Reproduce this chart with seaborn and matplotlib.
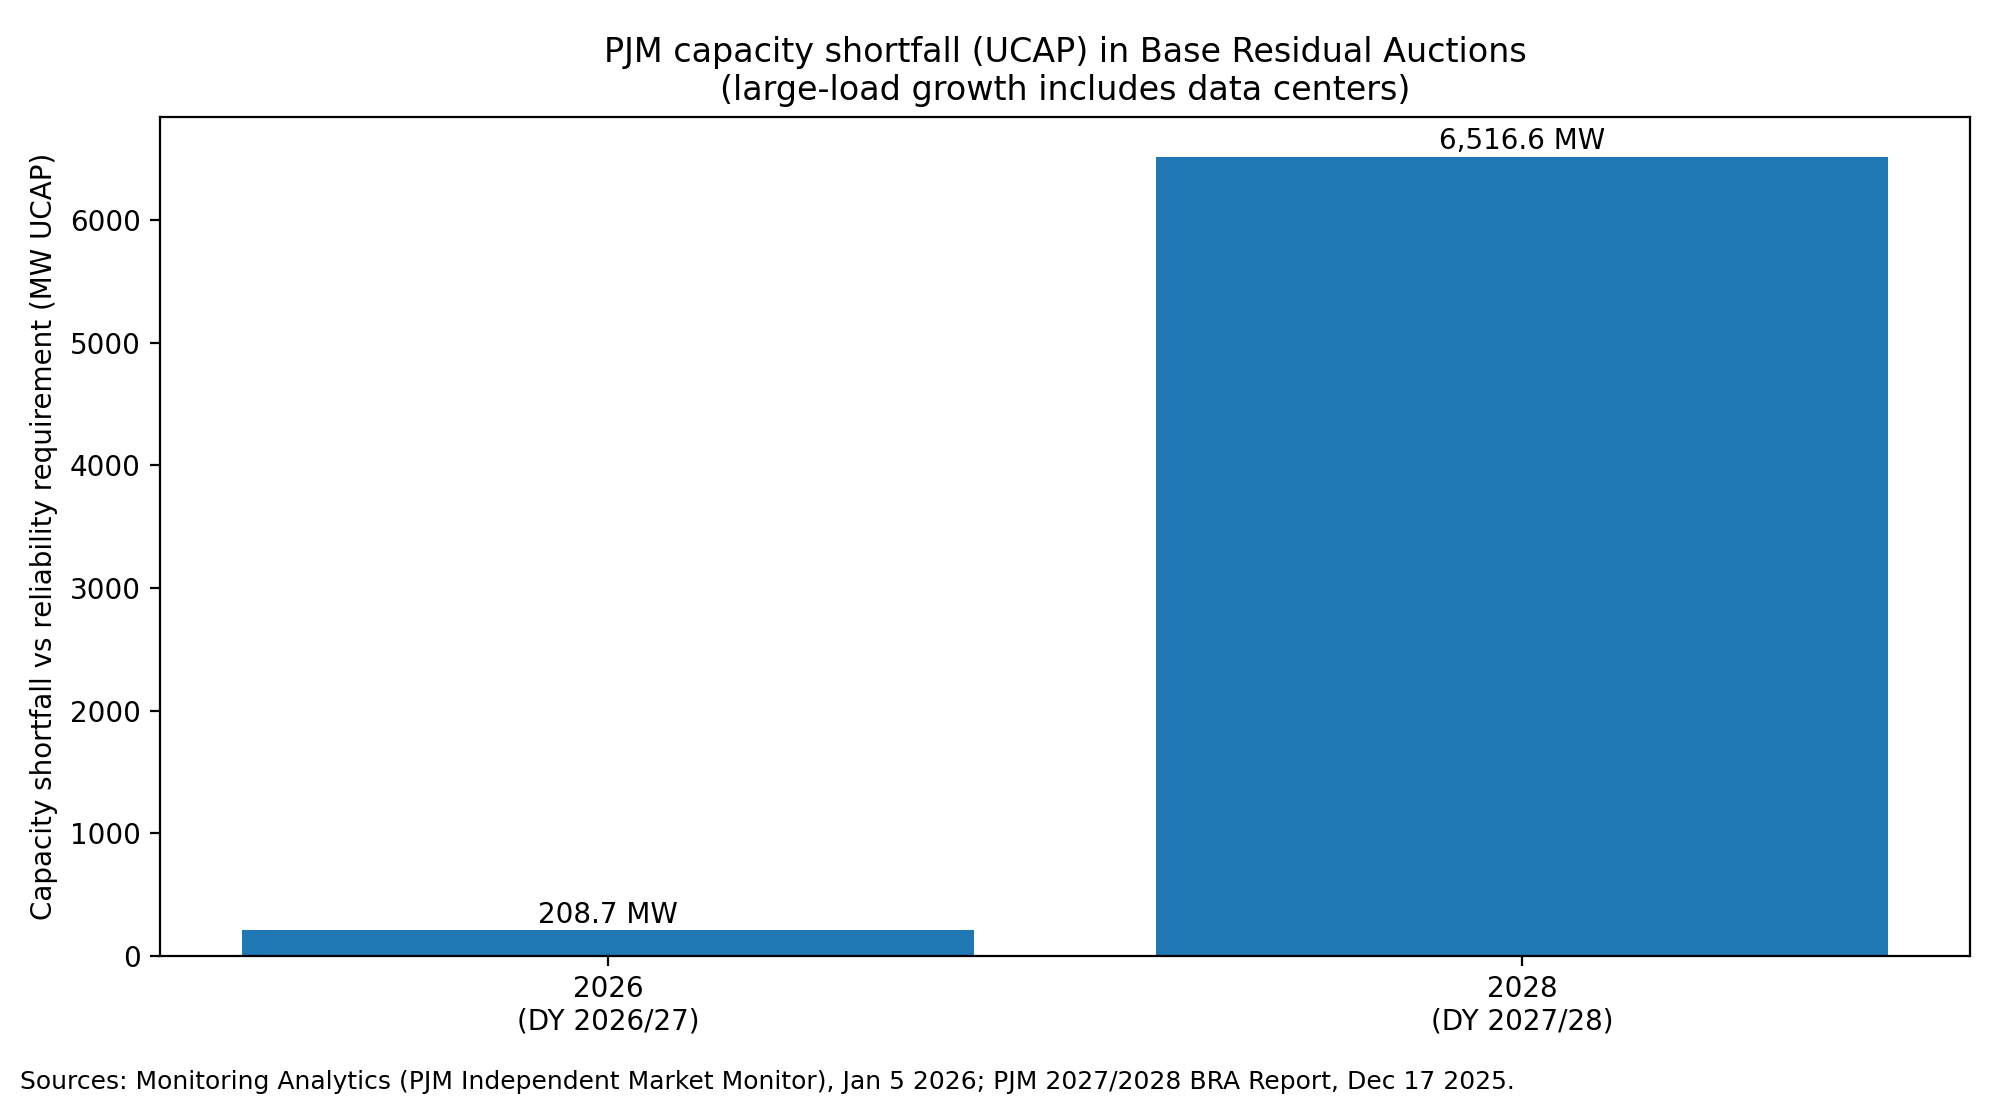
import matplotlib
matplotlib.use("Agg")
import matplotlib.pyplot as plt
import seaborn as sns
import pandas as pd

categories = ["2026\n(DY 2026/27)", "2028\n(DY 2027/28)"]
shortfall_mw = [208.7, 6516.6]
bar_labels = ["208.7 MW", "6,516.6 MW"]

df = pd.DataFrame({"cat": categories, "mw": shortfall_mw})

fig, ax = plt.subplots(figsize=(10, 5.5), dpi=200)
sns.barplot(data=df, x="cat", y="mw", color="#1f77b4", saturation=1, width=0.8, ax=ax)
ax.bar_label(ax.containers[0], labels=bar_labels, padding=0.5, fontsize=10)
ax.set_xlabel("")
ax.set_ylabel("Capacity shortfall vs reliability requirement (MW UCAP)")
ax.set_title("PJM capacity shortfall (UCAP) in Base Residual Auctions\n(large-load growth includes data centers)", fontsize=12)
ax.set_xlim(-0.49, 1.49)
ax.set_ylim(0, 6516.6 * 1.05)
fig.text(0.01, 0.005, "Sources: Monitoring Analytics (PJM Independent Market Monitor), Jan 5 2026; PJM 2027/2028 BRA Report, Dec 17 2025.", fontsize=9, ha="left", va="bottom")
fig.subplots_adjust(left=0.08, right=0.985, top=0.894, bottom=0.131)
fig.savefig("out.png", dpi=200)
